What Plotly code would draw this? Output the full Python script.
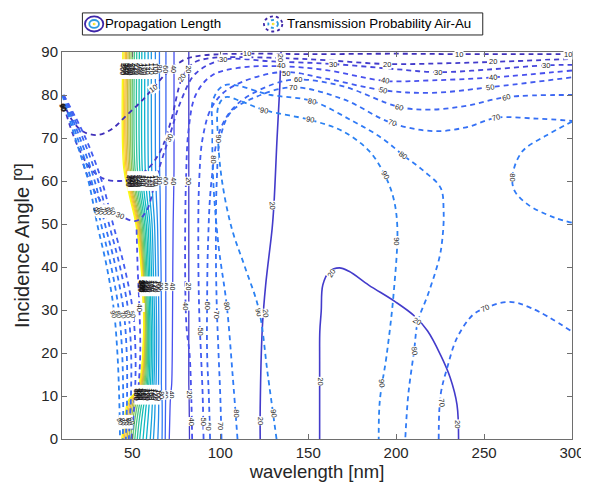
import plotly.graph_objects as go

# ---------------- Propagation Length (solid contours) ----------------
pl_levels = [20, 40, 60, 80, 100, 120, 140, 160, 180, 200,
             220, 240, 260, 280, 300, 320, 340, 360, 380, 400]
pl_y = [0, 5, 9, 11, 13, 25, 40, 50, 57, 63, 90]
# x position (nm) of each level at every pl_y row
pl_x_y0 = [82.5, 71.0, 68.7, 66.9, 64.5, 62.0, 60.2, 58.0, 56.1, 54.2, 52.8, 51.4, 50.2, 49.0, 48.0, 47.0, 46.2, 45.4, 44.7, 44.0]
pl_x_y5 = [82.4, 71.3, 68.8, 67.0, 64.9, 62.7, 61.0, 59.0, 57.2, 55.5, 54.1, 52.8, 51.6, 50.5, 49.5, 48.6, 47.8, 47.0, 46.3, 45.6]
pl_x_y9 = [82.3, 71.6, 68.9, 66.9, 65.0, 63.0, 61.5, 59.8, 58.3, 57.0, 55.8, 54.7, 53.6, 52.6, 51.7, 50.9, 50.1, 49.3, 48.5, 47.8]
pl_x_y11 = [82.2, 72.0, 69.0, 66.6, 64.9, 63.3, 62.0, 60.8, 59.7, 58.7, 57.8, 56.9, 56.0, 55.2, 54.5, 53.9, 53.4, 52.9, 52.5, 52.1]
pl_x_y13 = [82.1, 72.4, 69.0, 66.5, 64.9, 63.5, 62.3, 61.3, 60.3, 59.4, 58.6, 57.9, 57.2, 56.6, 56.0, 55.5, 55.0, 54.6, 54.3, 54.0]
pl_x_y25 = [82.1, 72.8, 69.0, 66.6, 65.1, 63.8, 62.7, 61.7, 60.8, 60.0, 59.3, 58.7, 58.2, 57.7, 57.3, 57.0, 56.8, 56.6, 56.5, 56.4]
pl_x_y40 = [82.1, 73.0, 69.0, 66.3, 64.7, 63.2, 61.9, 60.8, 59.8, 59.0, 58.2, 57.5, 56.9, 56.4, 56.0, 55.7, 55.5, 55.3, 55.1, 55.0]
pl_x_y50 = [82.1, 73.2, 69.0, 66.0, 64.3, 62.6, 61.2, 60.0, 58.9, 57.9, 57.0, 56.2, 55.5, 54.8, 54.2, 53.7, 53.2, 52.8, 52.4, 52.0]
pl_x_y57 = [82.1, 73.5, 69.1, 65.8, 63.6, 61.5, 59.8, 58.2, 56.8, 55.6, 54.5, 53.5, 52.6, 51.8, 51.0, 50.3, 49.7, 49.1, 48.6, 48.1]
pl_x_y63 = [82.1, 73.7, 69.1, 65.5, 63.2, 61.0, 59.1, 57.3, 55.6, 54.2, 52.8, 51.5, 50.5, 49.6, 48.7, 47.9, 47.1, 46.4, 45.7, 45.1]
pl_x_y90 = [82.1, 73.7, 69.1, 65.4, 63.1, 60.8, 59.0, 57.1, 55.4, 54.0, 52.5, 51.2, 50.2, 49.3, 48.4, 47.6, 46.8, 46.1, 45.3, 44.6]

# separate solid level-20 branches
pl20b_x = [122.7, 122.7, 123.9, 125.8, 129.5, 130.5, 132.3, 133.8, 134.5, 134.6]
pl20b_y = [0, 7.2, 25.8, 35.8, 49, 54.4, 70, 81.6, 89.6, 90]
pl20c_x = [156.5, 156.5, 156.6, 157.4, 158.3, 162.1, 167.7, 173.2, 184.4, 199.2, 210.4, 217.9, 225.3, 230.8, 234.6, 235.5]
pl20c_y = [0, 18, 25, 29.7, 35.8, 39, 39.8, 39, 35.8, 32, 28.6, 25.1, 19.5, 14.2, 8, 0]

# ---------------- Transmission Probability (dashed contours) ----------------
tp10_x = [10.5, 16, 22, 30, 38, 46.8, 55, 61.9, 70, 80, 90, 115, 150, 200, 236, 270, 300]
tp10_y = [78.5, 74, 71.5, 70.7, 72, 75.3, 78.5, 81.6, 85.3, 88.3, 89.2, 89.6, 89.5, 89.6, 89.5, 89.5, 89.5]
tp20_x = [11, 18, 26, 34, 43, 50, 58, 66, 72, 78.4, 85, 95, 110, 134, 160, 195, 230, 255, 300]
tp20_y = [77.5, 69, 63, 60.5, 60, 60.5, 62.5, 67, 74, 84, 87.5, 88.6, 88.8, 88.6, 88.1, 87.2, 87.4, 87.7, 88.4]
tp30_x = [22, 28, 35, 42.9, 52, 58, 63.5, 70.8, 78, 86, 101.5, 130, 163.9, 200, 223.6, 255, 285, 300]
tp30_y = [64, 58, 54, 52, 50.7, 53, 60.7, 70, 79, 85, 88.2, 87.8, 87.2, 86.0, 85.3, 86.0, 86.9, 87.0]
tp40_x = [84, 83.5, 82.5, 81, 80.3, 80, 80.5, 82, 86, 95, 110, 134, 160, 193.5, 220, 254.8, 300]
tp40_y = [0, 10, 20, 25, 31, 45, 60, 72, 80, 84.5, 86.3, 86.7, 85.8, 83.3, 83.4, 84.1, 85.7]
tp40b_x = [53.5, 54.5, 54.0, 53.0, 52.4]
tp40b_y = [12, 20, 30.5, 40, 49]
tp50_x = [90.5, 90, 89, 88, 87.5, 88, 90, 95, 105, 134, 160, 192.7, 220, 253.2, 300]
tp50_y = [0, 10, 20, 30, 45, 60, 70, 77, 81.5, 85.3, 83.8, 81.1, 80.5, 81.8, 84.1]
tp60_x = [94.2, 93.5, 92.5, 92.5, 93, 95, 100, 110, 130, 144.4, 170, 201.9, 219.7, 240, 262.5, 300]
tp60_y = [0, 10, 20, 31, 45, 60, 72, 78, 82.5, 83.6, 82, 77.2, 76.6, 77.5, 79.5, 80]
tp70_x = [100.7, 100, 99, 98, 97.5, 98, 100, 106, 120, 141.2, 170, 197.4, 221.4, 240, 257, 280, 300]
tp70_y = [0, 10, 20, 31, 45, 60, 70, 76, 79.5, 81.8, 79, 73.5, 71.6, 72.5, 74.7, 74.5, 74]
tp70b_x = [224.2, 225.3, 229, 234.6, 243.7, 250.4, 264.3, 277.1, 300]
tp70b_y = [0, 10.3, 16.5, 23.5, 28.9, 30.4, 31.9, 30.4, 25]
tp80_x = [109.8, 107, 103.7, 99, 96, 95.5, 96, 102.6, 128.8, 152.2, 175, 191.8, 204, 215.8, 225.3, 227, 226.4, 224.5, 218, 212.4, 210.2, 206.9, 205.2]
tp80_y = [0, 15, 31, 45, 60, 72, 79, 82.3, 80, 78.6, 74, 70, 66, 62.3, 58.4, 53, 47, 42, 33.5, 27.4, 20.5, 10.3, 0]
tp80b_x = [300, 285, 272, 266.5, 267, 275, 290, 300]
tp80b_y = [73.8, 70.5, 67, 62, 58, 54.5, 51.5, 50.3]
tp90_x = [132, 127, 122, 114, 106.5, 101, 98.7, 99, 103, 112, 124.9, 151.1, 169.5, 184.6, 193.5, 198.5, 200.7, 198.5, 194.6, 190.7, 190.1]
tp90_y = [0, 15, 30, 40, 49, 60, 70, 77.5, 79.5, 78.5, 76.5, 74.2, 71.6, 67, 61.4, 56, 49, 33.5, 19.5, 8.8, 0]

# left diagonal band (x at band_y)
band_y = [80, 70, 60, 50, 40, 30, 20, 10, 0]
band90_x = [10.2, 17.5, 25.0, 30.0, 35.5, 39.5, 41.5, 42.5, 43.0]
band80_x = [10.4, 18.8, 26.8, 32.2, 38.0, 42.3, 44.2, 44.8, 44.6]
band70_x = [10.6, 20.2, 28.6, 34.4, 40.5, 45.0, 46.8, 47.0, 46.3]
band60_x = [10.8, 21.8, 30.6, 36.7, 43.0, 47.6, 49.3, 49.2, 48.0]
band50_x = [11.0, 23.4, 32.6, 39.0, 45.5, 50.2, 51.8, 51.4, 49.5]

# isolated contour labels: (text, x, y, angle)
dashed_labels = [
    ("10", 61.9, 81.6, -35), ("20", 78.4, 84, -60), ("30", 70.8, 70, -65), ("30", 42.9, 52, 20),
    ("40", 54, 30.5, 90), ("40", 80.3, 31, 90), ("10", 115, 89.6, 0), ("10", 236, 89.5, 0), ("10", 298, 89.5, 0),
    ("30", 101.5, 88.2, 0), ("40", 134.4, 86.8, 0), ("50", 137.5, 84.9, 0),
    ("60", 144.4, 83.6, 0), ("70", 141.2, 81.8, 0), ("80", 152.2, 78.6, 10), ("90", 151.1, 74.2, 10),
    ("20", 194.6, 87.2, 0), ("20", 254.8, 87.7, 0), ("30", 163.9, 87.2, 0), ("30", 223.6, 85.3, 0), ("30", 285, 86.9, 0),
    ("40", 193.5, 83.3, 10), ("40", 254.8, 84.1, -5), ("50", 192.7, 81.1, 15), ("50", 253.2, 81.8, -10),
    ("60", 201.9, 77.2, 15), ("60", 262.5, 79.5, -15), ("70", 197.4, 73.5, 20), ("70", 257, 74.7, -15),
    ("80", 204, 66, 35), ("90", 193.5, 61.4, 60), ("80", 266, 60.8, 90), ("90", 124.9, 76.5, 10),
    ("90", 200.5, 46, 90), ("80", 210.2, 20.5, 85), ("90", 192, 13, 85), ("70", 225.7, 8.4, 85),
    ("70", 250.4, 30.4, -25), ("90", 122, 29.5, 75), ("80", 103.7, 31, 80), ("70", 98, 29, 90),
    ("60", 92.5, 31, 90), ("50", 88.5, 25, 90), ("60", 93.5, 3, 90), ("70", 100.5, 3, 90),
    ("80", 109.5, 6, 90), ("90", 130.5, 6, 80), ("40", 83.5, 4, 90), ("50", 90.3, 4, 90),
    ("80", 96, 65, 90), ("90", 99, 70, 90),
]
solid_labels = [
    ("20", 134.4, 88.7, 90), ("20", 129.8, 54.4, 85), ("20", 126.0, 29.3, 85), ("20", 122.7, 4.2, 90),
    ("20", 163, 38.6, -60), ("20", 156.5, 13.5, 90), ("20", 212, 27.4, 30), ("20", 234.6, 3.5, 90),
]
# y of the label rows placed across the solid bundle, and across the left band
pl_label_rows_y = [86, 60, 35.5, 10.3]
band_label_y = [77, 53, 29, 4]


# ---------------- helpers (styling only) ----------------
PARULA = [(0.0, (62, 38, 168)), (0.1, (72, 80, 238)), (0.2, (47, 123, 247)), (0.3, (30, 153, 227)),
          (0.4, (13, 177, 209)), (0.5, (20, 190, 180)), (0.6, (70, 199, 140)), (0.7, (140, 197, 90)),
          (0.8, (205, 188, 60)), (0.9, (253, 190, 56)), (1.0, (249, 251, 20))]
CMAX = 400.0
FONT = "Liberation Sans"


def parula(v):
    t = max(0.0, min(1.0, v / CMAX))
    for (t0, c0), (t1, c1) in zip(PARULA[:-1], PARULA[1:]):
        if t <= t1:
            f = (t - t0) / (t1 - t0)
            c = [round(a + (b - a) * f) for a, b in zip(c0, c1)]
            return "rgb(%d,%d,%d)" % tuple(c)
    return "rgb(249,251,20)"


def label(fig, txt, x, y, ang, size=7.5, color="#262626", bg="white"):
    fig.add_annotation(x=x, y=y, text=txt, showarrow=False, textangle=ang,
                       font=dict(size=size, color=color, family=FONT),
                       bgcolor=bg, borderpad=0)


def white_gap(fig, x0, x1, y0, y1):
    fig.add_shape(type="rect", x0=x0, x1=x1, y0=y0, y1=y1, xref="x", yref="y",
                  line=dict(width=0), fillcolor="white", layer="above")


fig = go.Figure()

# solid propagation-length contours
rows = [pl_x_y0, pl_x_y5, pl_x_y9, pl_x_y11, pl_x_y13, pl_x_y25, pl_x_y40,
        pl_x_y50, pl_x_y57, pl_x_y63, pl_x_y90]
for i, lev in enumerate(pl_levels):
    xs = [r[i] for r in rows]
    fig.add_trace(go.Scatter(x=xs, y=pl_y, mode="lines", line=dict(color=parula(lev), width=1.3, shape="spline"),
                             showlegend=False, hoverinfo="skip"))
for xs, ys in [(pl20b_x, pl20b_y), (pl20c_x, pl20c_y)]:
    fig.add_trace(go.Scatter(x=xs, y=ys, mode="lines", line=dict(color=parula(20), width=1.6, shape="spline"),
                             showlegend=False, hoverinfo="skip"))

DASH = "5px,4px"
dashed = [
    (10, tp10_x, tp10_y), (20, tp20_x, tp20_y), (30, tp30_x, tp30_y),
    (40, tp40_x, tp40_y), (40, tp40b_x, tp40b_y), (50, tp50_x, tp50_y),
    (60, tp60_x, tp60_y), (70, tp70_x, tp70_y), (70, tp70b_x, tp70b_y),
    (80, tp80_x, tp80_y), (80, tp80b_x, tp80b_y), (90, tp90_x, tp90_y),
    (90, band90_x, band_y), (80, band80_x, band_y), (70, band70_x, band_y),
    (60, band60_x, band_y), (50, band50_x, band_y),
]
for lev, xs, ys in dashed:
    fig.add_trace(go.Scatter(x=xs, y=ys, mode="lines",
                             line=dict(color=parula(lev), width=1.8, dash=DASH, shape="spline"),
                             showlegend=False, hoverinfo="skip"))

for txt, x, y, ang in dashed_labels + solid_labels:
    label(fig, txt, x, y, ang)

# label rows across the solid bundle: white gap behind the packed levels, text drawn on it
row_src = [pl_x_y90, pl_x_y57, pl_x_y40, pl_x_y11]
for ly, src in zip(pl_label_rows_y, row_src):
    packed = src[4:]
    white_gap(fig, min(packed) - 1.0, max(packed) + 1.0, ly - 2.3, ly + 2.3)
    for k, (lev, xv) in enumerate(zip(pl_levels, src)):
        label(fig, str(lev), xv, ly, 90, size=7, color="#111111", bg="white" if k < 4 else None)

# label clusters on the left band
band_x_rows = [band90_x, band80_x, band70_x, band60_x, band50_x]
band_lev = [90, 80, 70, 60, 50]
for ly in band_label_y:
    j = min(range(len(band_y)), key=lambda k: abs(band_y[k] - ly))
    bxs = [bx[j] for bx in band_x_rows]
    white_gap(fig, min(bxs) - 0.8, max(bxs) + 0.8, ly - 1.6, ly + 1.6)
    for lev, bxv in zip(band_lev, bxs):
        label(fig, str(lev), bxv, ly, 70, size=6.8, color="#111111", bg=None)

# ---- legend drawn as shapes/text (paper coords) ----
fig.add_shape(type="rect", xref="paper", yref="paper", x0=0.040, x1=0.825, y0=1.044, y1=1.101,
              line=dict(color="#262626", width=1), fillcolor="white")
for k, c in enumerate(["#3e26a8", "#2f9be0", "#f9e010"]):
    d = k * 0.0085
    fig.add_shape(type="circle", xref="paper", yref="paper", x0=0.045 + d, x1=0.081 - d,
                  y0=1.053 + d * 1.1, y1=1.092 - d * 1.1, line=dict(color=c, width=1.8))
    fig.add_shape(type="circle", xref="paper", yref="paper", x0=0.396 + d, x1=0.432 - d,
                  y0=1.053 + d * 1.1, y1=1.092 - d * 1.1, line=dict(color=c, width=1.8, dash="dot"))
fig.add_annotation(xref="paper", yref="paper", x=0.0805, y=1.0725, text="Propagation Length", showarrow=False,
                   xanchor="left", yanchor="middle", font=dict(size=13.3, color="#000000", family=FONT))
fig.add_annotation(xref="paper", yref="paper", x=0.4375, y=1.0725, text="Transmission Probability Air-Au",
                   showarrow=False, xanchor="left", yanchor="middle",
                   font=dict(size=13.3, color="#000000", family=FONT))

axis_common = dict(showline=True, linecolor="#6e6e6e", linewidth=1, mirror="ticks", ticks="inside",
                   ticklen=5, tickcolor="#6e6e6e", showgrid=False, zeroline=False,
                   tickfont=dict(size=15, color="#262626", family=FONT))
fig.update_layout(
    width=589, height=485, margin=dict(l=54, r=15, t=44, b=54),
    plot_bgcolor="white", paper_bgcolor="white", showlegend=False,
    xaxis=dict(range=[10, 300], tickvals=[50, 100, 150, 200, 250, 300],
               title=dict(text="wavelength [nm]", font=dict(size=18.5, color="#262626", family=FONT),
                          standoff=4), **axis_common),
    yaxis=dict(range=[0, 90], tickvals=[0, 10, 20, 30, 40, 50, 60, 70, 80, 90],
               title=dict(text="Incidence Angle [º]", font=dict(size=20, color="#262626", family=FONT),
                          standoff=6), **axis_common),
)
fig.write_html("out.html")
